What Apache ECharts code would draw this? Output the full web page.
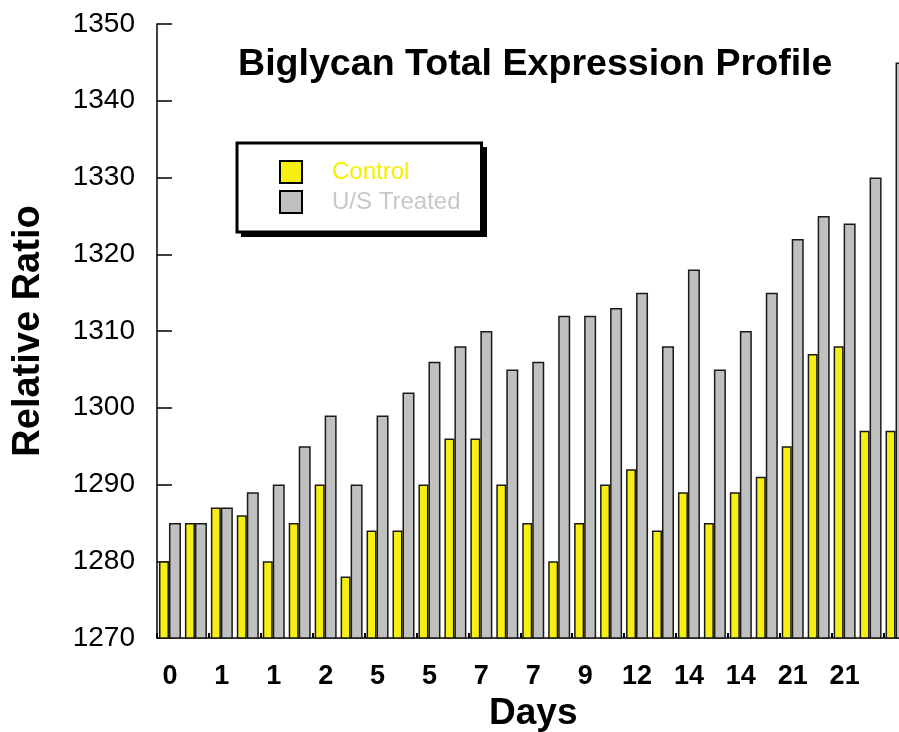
<!DOCTYPE html>
<html>
<head>
<meta charset="utf-8">
<script src="https://cdn.jsdelivr.net/npm/echarts@6/dist/echarts.min.js"></script>
<style>
html,body{margin:0;padding:0;background:#fff;}
#chart{width:899px;height:732px;}
</style>
</head>
<body>
<div id="chart"></div>
<script>
const dayLabels = ["0","","1","","1","","2","","5","","5","","7","","7","","9","","12","","14","","14","","21","","21","",""];
const control = [1280,1285,1287,1286,1280,1285,1290,1278,1284,1284,1290,1296,1296,1290,1285,1280,1285,1290,1292,1284,1289,1285,1289,1291,1295,1307,1308,1297,1297];
const treated = [1285,1285,1287,1289,1290,1295,1299,1290,1299,1302,1306,1308,1310,1305,1306,1312,1312,1313,1315,1308,1318,1305,1310,1315,1322,1325,1324,1330,1345];
const yTicks = {min:1270, max:1350, interval:10};

const FONT = 'Liberation Sans, Arial, sans-serif';
const chart = echarts.init(document.getElementById('chart'), null, {renderer:'canvas'});
chart.setOption({
  backgroundColor:'#fff',
  animation:false,
  title:{
    text:'Biglycan Total Expression Profile',
    left:238, top:46, padding:0,
    textStyle:{fontFamily:FONT, fontWeight:'bold', fontSize:37.6, color:'#000'}
  },
  graphic:[
    {type:'rect', z:1, shape:{x:241, y:147, width:246, height:90}, style:{fill:'#000'}}
  ],
  legend:{
    orient:'vertical',
    left:237, top:143,
    padding:[17,21,18,42],
    itemGap:6,
    itemWidth:22, itemHeight:22,
    icon:'rect',
    z:5,
    backgroundColor:'#fff',
    borderColor:'#000', borderWidth:3, borderRadius:0,
    itemStyle:{borderColor:'#000', borderWidth:2},
    textStyle:{fontFamily:FONT, fontSize:24, padding:[0,0,0,25]},
    data:[
      {name:'Control', textStyle:{color:'#f5f000'}},
      {name:'U/S Treated', textStyle:{color:'#c8c8c8'}}
    ]
  },
  grid:{left:157, width:752.5, top:24, bottom:94, containLabel:false, outerBoundsMode:'none'},
  xAxis:{
    type:'category',
    data:dayLabels,
    name:'Days',
    nameLocation:'middle',
    nameGap:54,
    nameTextStyle:{fontFamily:FONT, fontWeight:'bold', fontSize:37, color:'#000'},
    axisLine:{lineStyle:{color:'#000', width:1.5}},
    axisTick:{show:true, inside:true, length:5, interval:1, lineStyle:{color:'#000', width:2}},
    axisLabel:{interval:0, margin:25, fontFamily:FONT, fontWeight:'bold', fontSize:27, color:'#000'},
    splitLine:{show:false}
  },
  yAxis:{
    type:'value',
    min:yTicks.min, max:yTicks.max, interval:yTicks.interval,
    name:'Relative Ratio',
    nameLocation:'middle',
    nameGap:109,
    nameRotate:90,
    nameTextStyle:{fontFamily:FONT, fontWeight:'bold', fontSize:38, color:'#000'},
    axisLine:{show:true, lineStyle:{color:'#000', width:1.5}},
    axisTick:{show:true, inside:true, length:15, lineStyle:{color:'#000', width:1.5}},
    axisLabel:{margin:22, fontFamily:FONT, fontSize:28, color:'#000', formatter:function(v){return String(v);}},
    splitLine:{show:false}
  },
  series:[
    {
      name:'Control', type:'bar', data:control,
      barWidth:10, barGap:'0%',
      itemStyle:{color:'#f7ef14', borderColor:'#1a1a1a', borderWidth:1.5}
    },
    {
      name:'U/S Treated', type:'bar', data:treated,
      barWidth:12, barGap:'0%',
      itemStyle:{color:'#c0c0c0', borderColor:'#1a1a1a', borderWidth:1.5}
    }
  ]
});
</script>
</body>
</html>
